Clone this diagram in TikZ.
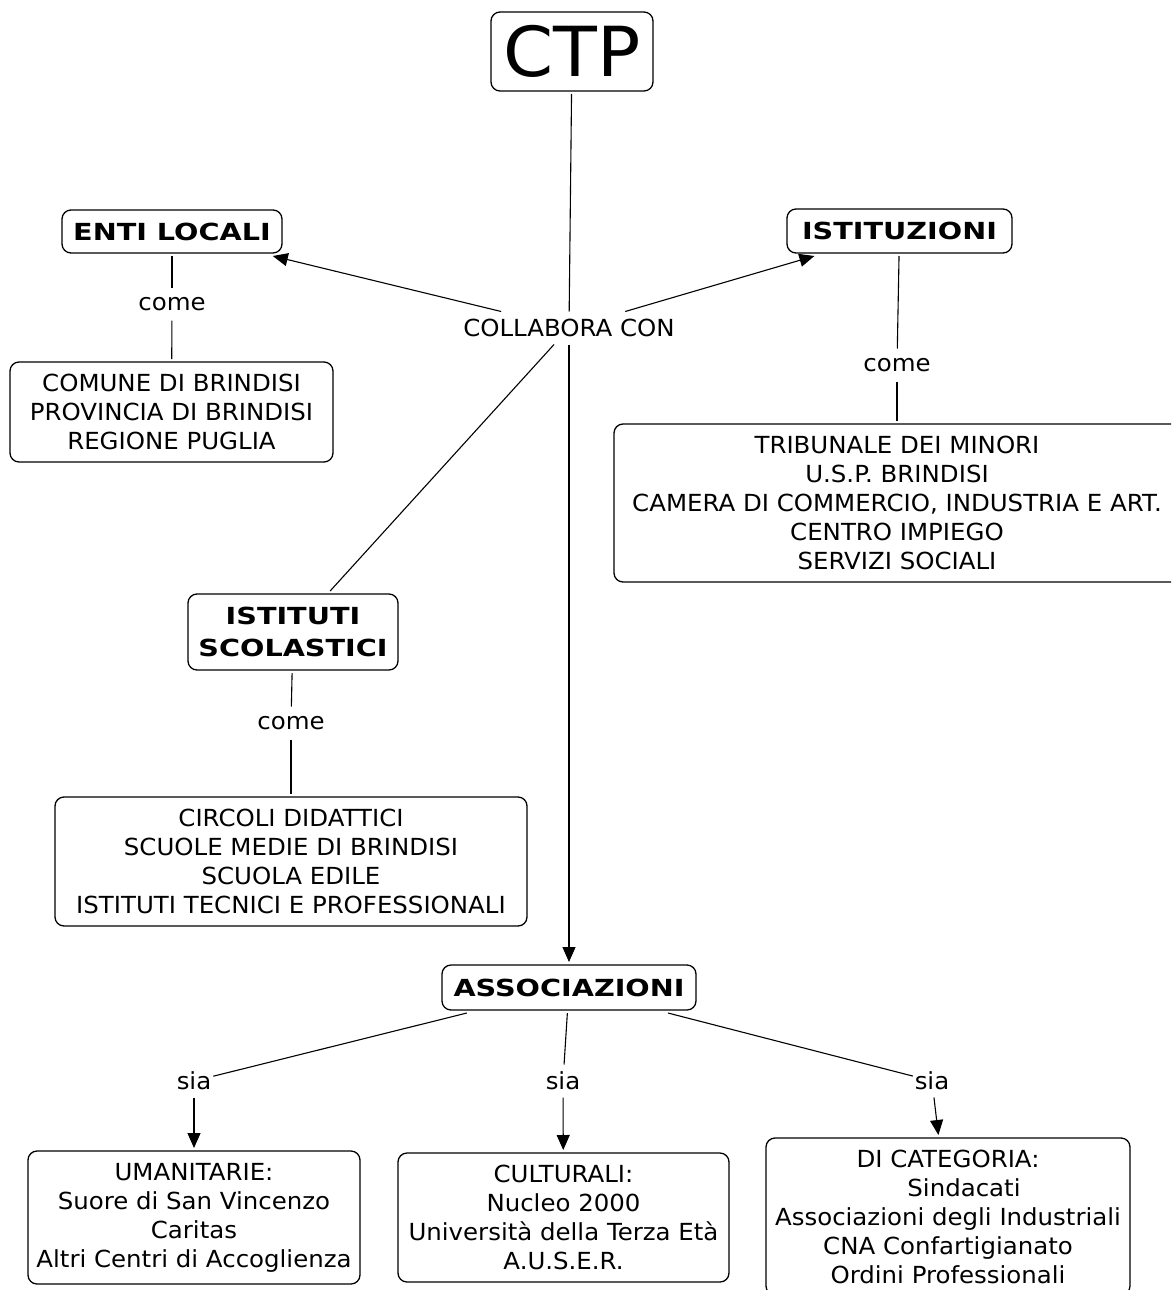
\documentclass[tikz,border=0pt]{standalone}
\usepackage{fontspec}
\setmainfont{DejaVu Sans}[FakeStretch=1.04, BoldFeatures={FakeStretch=1.22}]
\usetikzlibrary{arrows.meta}
\begin{document}
\begin{tikzpicture}[x=1pt,y=-1pt,
  box/.style={draw, line width=1.3pt, rounded corners=9pt, align=center,
    font=\fontsize{23.5}{29}\selectfont, inner sep=0pt, outer sep=3pt},
  bbox/.style={box, font=\fontsize{23.5}{32}\selectfont\bfseries},
  lab/.style={font=\fontsize{23.5}{29}\selectfont, inner sep=2pt, outer sep=0pt, minimum height=33pt},
  conn/.style={line width=1.1pt},
  arr/.style={conn, -{Triangle[length=15pt,width=13pt]}}]
\useasboundingbox (0,0) rectangle (1171,1290);
\clip (0,0) rectangle (1171,1290);
\fill[white] (0,0) rectangle (1171,1290);

% main nodes
\node[box, minimum width=162pt, minimum height=79pt, font=\fontsize{69}{80}\selectfont] (ctp) at (572,51.5) {CTP};
\node[lab] (collab) at (569,328) {COLLABORA CON};

\node[bbox, minimum width=220pt, minimum height=43pt] (enti) at (172,231.5) {ENTI LOCALI};
\node[bbox, minimum width=225pt, minimum height=44pt] (istit) at (899.5,231) {ISTITUZIONI};
\node[bbox, minimum width=210pt, minimum height=76pt] (scol) at (293,632) {ISTITUTI\\SCOLASTICI};
\node[bbox, minimum width=254pt, minimum height=45pt] (assoc) at (569,987.5) {ASSOCIAZIONI};

% detail boxes
\node[box, minimum width=323pt, minimum height=100pt] (comune) at (171.5,412)
  {COMUNE DI BRINDISI\\PROVINCIA DI BRINDISI\\REGIONE PUGLIA};
\node[box, minimum width=566pt, minimum height=158pt] (trib) at (897,503)
  {TRIBUNALE DEI MINORI\\U.S.P. BRINDISI\\CAMERA DI COMMERCIO, INDUSTRIA E ART.\\CENTRO IMPIEGO\\SERVIZI SOCIALI};
\node[box, minimum width=472pt, minimum height=129pt] (circ) at (291,861.5)
  {CIRCOLI DIDATTICI\\SCUOLE MEDIE DI BRINDISI\\SCUOLA EDILE\\ISTITUTI TECNICI E PROFESSIONALI};
\node[box, minimum width=332pt, minimum height=133pt] (uman) at (194,1217.5)
  {UMANITARIE:\\Suore di San Vincenzo\\Caritas\\Altri Centri di Accoglienza};
\node[box, minimum width=331pt, minimum height=129pt] (cult) at (563.5,1217.5)
  {CULTURALI:\\Nucleo 2000\\Università della Terza Età\\A.U.S.E.R.};
\node[box, minimum width=364pt, minimum height=157pt] (categ) at (948,1216.5)
  {DI CATEGORIA:\\\hspace*{32pt}Sindacati\\Associazioni degli Industriali\\CNA Confartigianato\\Ordini Professionali};

% linking labels
\node[lab] (come1) at (172,304) {come};
\node[lab] (come2) at (897,365) {come};
\node[lab] (come3) at (291,723) {come};
\node[lab] (sia1) at (194,1081) {sia};
\node[lab] (sia2) at (563,1081) {sia};
\node[lab] (sia3) at (932,1081) {sia};

% connectors
\draw[conn] (ctp) -- (collab);
\draw[arr] (collab) -- (enti);
\draw[arr] (collab) -- (istit);
\draw[conn] (collab) -- (scol);
\draw[arr] (collab) -- (assoc);

\draw[conn] (enti) -- (come1);
\draw[conn] (come1) -- (comune);
\draw[conn] (istit) -- (come2);
\draw[conn] (come2) -- (trib);
\draw[conn] (scol) -- (come3);
\draw[conn] (come3) -- (circ);

\draw[conn] (assoc) -- (sia1);
\draw[arr] (sia1) -- (uman);
\draw[conn] (assoc) -- (sia2);
\draw[arr] (sia2) -- (cult);
\draw[conn] (assoc) -- (sia3);
\draw[arr] (sia3) -- (categ);
\end{tikzpicture}
\end{document}
